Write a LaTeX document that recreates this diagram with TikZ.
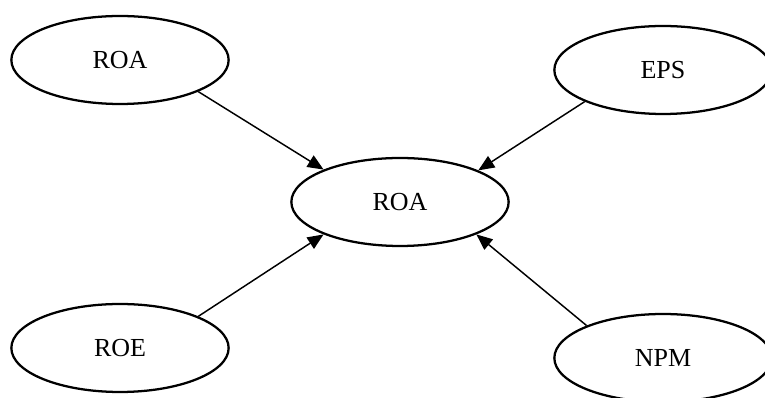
\documentclass[tikz,border=0pt]{standalone}
\usepackage{fontspec}
\setmainfont{Liberation Serif}
\usetikzlibrary{shapes.geometric, arrows.meta}

\begin{document}
\begin{tikzpicture}[x=0.75pt, y=-0.75pt,
    factor/.style={draw, ellipse, line width=1.7pt, minimum width=163pt, minimum height=66pt, inner sep=0pt, font=\fontsize{19.5}{23}\selectfont},
    link/.style={-{Triangle[length=12pt, width=10pt]}, line width=1.1pt}]
    \useasboundingbox (0,0) rectangle (765,398);
    \clip (0,0) rectangle (765,398);

    \node[factor] (roa) at (400,202) {ROA};
    \node[factor] (roaTop) at (120,60) {ROA};
    \node[factor] (eps) at (663,70) {EPS};
    \node[factor] (roe) at (120,348) {ROE};
    \node[factor] (npm) at (663,358) {NPM};

    \draw[link] (roaTop.-22) -- (roa.157);
    \draw[link] (eps.-158) -- (roa.22);
    \draw[link] (roe.22) -- (roa.-157);
    \draw[link] (npm.157) -- (roa.-23);
\end{tikzpicture}
\end{document}
